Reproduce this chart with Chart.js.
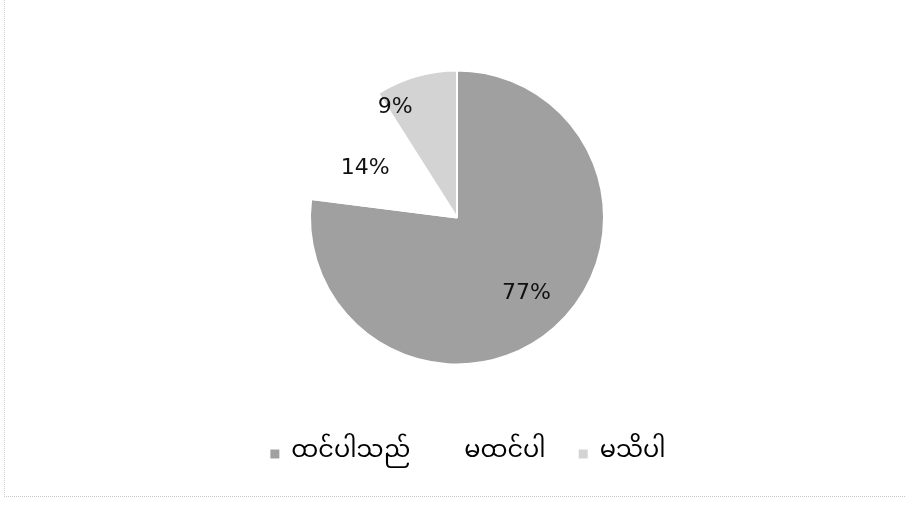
<!DOCTYPE html>
<html lang="my">
<head>
    <meta charset="UTF-8">
    <title>Pie chart</title>
    <script src="https://cdn.jsdelivr.net/npm/chart.js"></script>
    <style>
        body { margin: 0; background: #fff; }
        #wrap { position: relative; width: 906px; height: 506px; }
        #frame { position: absolute; left: 4px; top: -2px; width: 900px; height: 498px;
                 border-left: 1px dotted #d0d0d0; border-bottom: 1px dotted #c8c8c8; }
    </style>
</head>
<body>
    <div id="wrap">
        <div id="frame"></div>
        <canvas id="myChart" width="906" height="506"></canvas>
    </div>

    <script>
        // datos del gráfico
        const categories = ['ထင်ပါသည်', 'မထင်ပါ', 'မသိပါ'];
        const values = [77, 14, 9];
        const percentLabels = ['77%', '14%', '9%'];

        const sliceColors = ['#a0a0a0', '#ffffff', '#d3d3d3'];
        const myanmarFont = "'Noto Sans Myanmar', 'Padauk', 'Myanmar Text', 'Noto Sans', sans-serif";

        // etiquetas dentro de las porciones (radio relativo y giro en grados)
        const labelPlugin = {
            id: 'sliceLabels',
            afterLayout(chart) {
                // la leyenda está un poco a la derecha del centro del pastel
                chart.legend.left += 11;
                chart.legend.right += 11;
            },
            afterDatasetsDraw(chart) {
                const ctx = chart.ctx;
                const meta = chart.getDatasetMeta(0);
                const place = [[0.70, -1], [0.71, -4], [0.86, -13]];
                ctx.save();
                ctx.font = "22px 'DejaVu Sans', Verdana, sans-serif";
                ctx.fillStyle = '#111';
                ctx.textAlign = 'center';
                ctx.textBaseline = 'middle';
                meta.data.forEach((arc, i) => {
                    const p = arc.getProps(['x', 'y', 'startAngle', 'endAngle', 'outerRadius'], true);
                    const a = (p.startAngle + p.endAngle) / 2 + place[i][1] * Math.PI / 180;
                    const r = p.outerRadius * place[i][0];
                    ctx.fillText(percentLabels[i], p.x + Math.cos(a) * r, p.y + Math.sin(a) * r);
                });
                ctx.restore();
            }
        };

        const ctx = document.getElementById('myChart').getContext('2d');
        const myChart = new Chart(ctx, {
            type: 'pie',
            data: {
                labels: categories,
                datasets: [{
                    data: values,
                    backgroundColor: sliceColors,
                    borderColor: '#ffffff',
                    borderWidth: 2,
                    radius: 147
                }]
            },
            options: {
                responsive: false,
                animation: false,
                layout: { padding: { top: 26, bottom: 30, left: 8, right: 0 } },
                plugins: {
                    tooltip: { enabled: false },
                    legend: {
                        position: 'bottom',
                        labels: {
                            color: '#111',
                            boxWidth: 9,
                            boxHeight: 9,
                            padding: 33,
                            font: { size: 24, family: myanmarFont },
                            generateLabels(chart) {
                                return categories.map((c, i) => ({
                                    text: c,
                                    fillStyle: sliceColors[i],
                                    strokeStyle: sliceColors[i],
                                    lineWidth: 0,
                                    index: i
                                }));
                            }
                        }
                    }
                }
            },
            plugins: [labelPlugin]
        });
    </script>
</body>
</html>
